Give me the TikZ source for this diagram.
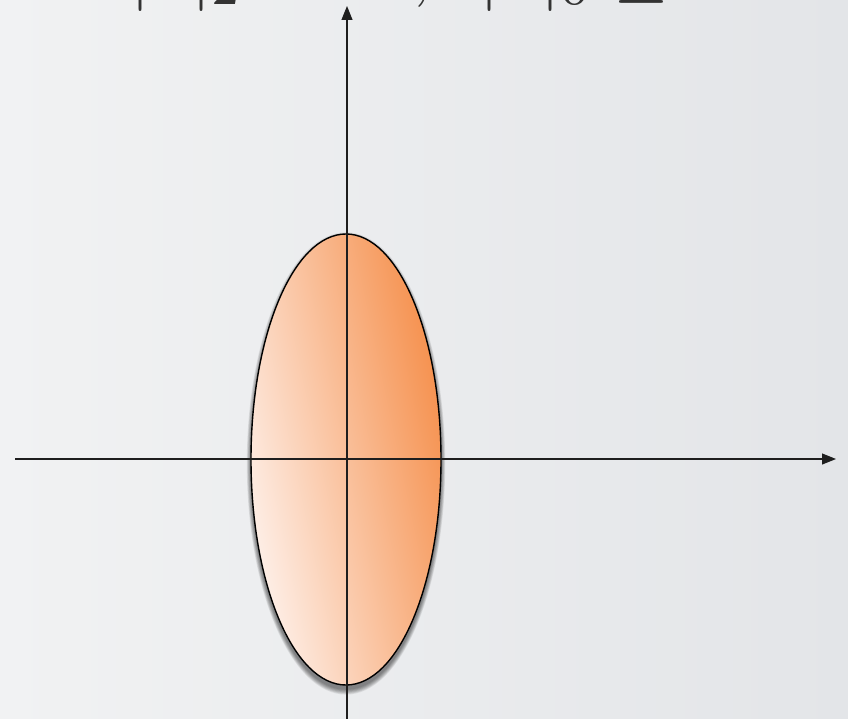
\documentclass[tikz,border=0pt]{standalone}
\usepackage{graphicx}
\usetikzlibrary{arrows.meta,shapes.geometric}
\definecolor{bgL}{HTML}{F1F2F3}
\definecolor{bgR}{HTML}{E3E5E8}
\definecolor{ellD}{HTML}{F58D48}
\definecolor{ellL}{HTML}{FEF3EE}
\definecolor{axcol}{HTML}{1E1E1E}
\tikzset{
  axis/.style={draw=axcol, line width=1.1pt, -{Triangle[length=14pt,width=11pt]}},
  blob/.style={ellipse, draw=black, line width=1.4pt, inner sep=0pt,
    minimum width=190pt, minimum height=451pt,
    top color=ellD, bottom color=ellL, shading angle=-78},
  shadowlayer/.style={fill=black, fill opacity=0.08, draw=none}
}
\begin{document}
\begin{tikzpicture}[x=1pt,y=-1pt]
  \clip (0,0) rectangle (848,719);
  \shade[left color=bgL, right color=bgR] (0,0) rectangle (848,719);
  % soft shadow under the ellipse
  \foreach \d in {1,2,3,4,5,6,7} {
    \fill[shadowlayer] (346,463.5) ellipse [x radius={95+0.6*\d}, y radius={225.5+0.8*\d}];
  }
  \node[blob] (ell) at (346,459.5) {};
  \coordinate (xl) at (15,459);
  \coordinate (xr) at (836,459);
  \coordinate (yb) at (347,719);
  \coordinate (yt) at (347,6);
  \draw[axis] (xl) -- (xr);
  \draw[axis] (yb) -- (yt);
  \node[anchor=base west, inner sep=0pt, text=black!80] (title) at (130,-6)
    {\scalebox{7.2}{$|x|_2 = 10,\ \,|x|_0 \le 1$}};
\end{tikzpicture}
\end{document}
